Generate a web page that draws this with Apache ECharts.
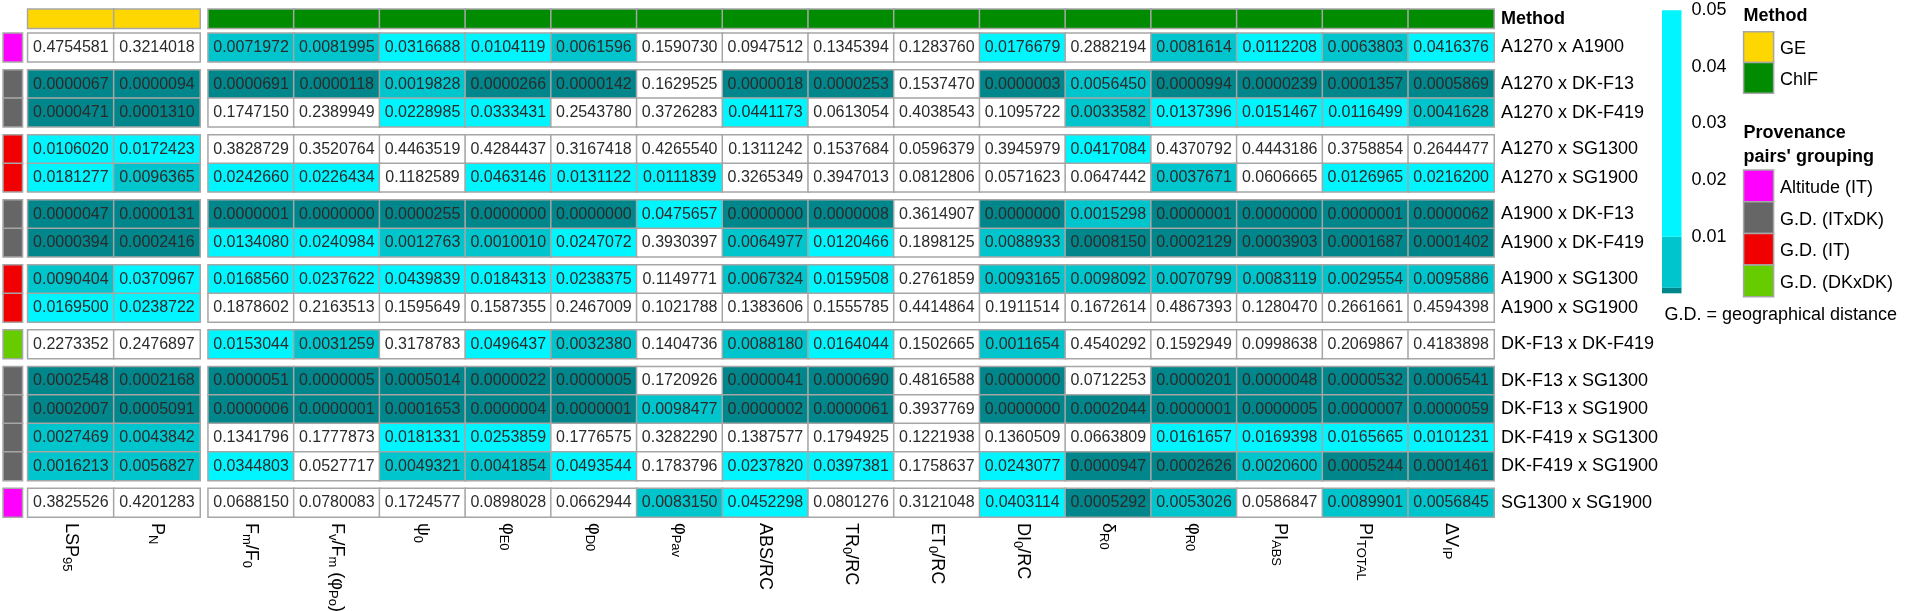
<!DOCTYPE html>
<html><head><meta charset="utf-8">
<script src="https://cdn.jsdelivr.net/npm/echarts@6/dist/echarts.min.js"></script>
<style>html,body{margin:0;padding:0;background:#fff}#c{width:1907px;height:611px}</style>
</head><body><div id="c"></div>
<script>
// ---------------- data ----------------
const rowLabels = [
  'A1270 x A1900',
  'A1270 x DK-F13', 'A1270 x DK-F419',
  'A1270 x SG1300', 'A1270 x SG1900',
  'A1900 x DK-F13', 'A1900 x DK-F419',
  'A1900 x SG1300', 'A1900 x SG1900',
  'DK-F13 x DK-F419',
  'DK-F13 x SG1300', 'DK-F13 x SG1900', 'DK-F419 x SG1300', 'DK-F419 x SG1900',
  'SG1300 x SG1900'
];
const groupSizes = [1, 2, 2, 2, 2, 1, 4, 1];
const rowProvenance = [
  'Altitude (IT)',
  'G.D. (ITxDK)', 'G.D. (ITxDK)',
  'G.D. (IT)', 'G.D. (IT)',
  'G.D. (ITxDK)', 'G.D. (ITxDK)',
  'G.D. (IT)', 'G.D. (IT)',
  'G.D. (DKxDK)',
  'G.D. (ITxDK)', 'G.D. (ITxDK)', 'G.D. (ITxDK)', 'G.D. (ITxDK)',
  'Altitude (IT)'
];
const methodLevels = ['GE', 'ChlF'];
const methodColors = ['#FFD700', '#008B00'];
const provenanceLevels = ['Altitude (IT)', 'G.D. (ITxDK)', 'G.D. (IT)', 'G.D. (DKxDK)'];
const provenanceColors = ['#FF00FF', '#666666', '#F00000', '#66CC00'];

const geLabels = ['LSP{s|95}', 'P{s|N}'];
const chlfLabels = [
  'F{s|m}/F{s|0}', 'F{s|v}/F{s|m} (φ{s|Po})', 'ψ{s|0}', 'φ{s|E0}', 'φ{s|D0}', 'φ{s|Pav}',
  'ABS/RC', 'TR{s|0}/RC', 'ET{s|0}/RC', 'DI{s|0}/RC', 'δ{s|R0}', 'φ{s|R0}',
  'PI{s|ABS}', 'PI{s|TOTAL}', 'ΔV{s|IP}'
];

const geValues = [
  [0.4754581, 0.3214018],
  [0.0000067, 0.0000094],
  [0.0000471, 0.0001310],
  [0.0106020, 0.0172423],
  [0.0181277, 0.0096365],
  [0.0000047, 0.0000131],
  [0.0000394, 0.0002416],
  [0.0090404, 0.0370967],
  [0.0169500, 0.0238722],
  [0.2273352, 0.2476897],
  [0.0002548, 0.0002168],
  [0.0002007, 0.0005091],
  [0.0027469, 0.0043842],
  [0.0016213, 0.0056827],
  [0.3825526, 0.4201283]
];
const chlfValues = [
  [0.0071972, 0.0081995, 0.0316688, 0.0104119, 0.0061596, 0.1590730, 0.0947512, 0.1345394, 0.1283760, 0.0176679, 0.2882194, 0.0081614, 0.0112208, 0.0063803, 0.0416376],
  [0.0000691, 0.0000118, 0.0019828, 0.0000266, 0.0000142, 0.1629525, 0.0000018, 0.0000253, 0.1537470, 0.0000003, 0.0056450, 0.0000994, 0.0000239, 0.0001357, 0.0005869],
  [0.1747150, 0.2389949, 0.0228985, 0.0333431, 0.2543780, 0.3726283, 0.0441173, 0.0613054, 0.4038543, 0.1095722, 0.0033582, 0.0137396, 0.0151467, 0.0116499, 0.0041628],
  [0.3828729, 0.3520764, 0.4463519, 0.4284437, 0.3167418, 0.4265540, 0.1311242, 0.1537684, 0.0596379, 0.3945979, 0.0417084, 0.4370792, 0.4443186, 0.3758854, 0.2644477],
  [0.0242660, 0.0226434, 0.1182589, 0.0463146, 0.0131122, 0.0111839, 0.3265349, 0.3947013, 0.0812806, 0.0571623, 0.0647442, 0.0037671, 0.0606665, 0.0126965, 0.0216200],
  [0.0000001, 0.0000000, 0.0000255, 0.0000000, 0.0000000, 0.0475657, 0.0000000, 0.0000008, 0.3614907, 0.0000000, 0.0015298, 0.0000001, 0.0000000, 0.0000001, 0.0000062],
  [0.0134080, 0.0240984, 0.0012763, 0.0010010, 0.0247072, 0.3930397, 0.0064977, 0.0120466, 0.1898125, 0.0088933, 0.0008150, 0.0002129, 0.0003903, 0.0001687, 0.0001402],
  [0.0168560, 0.0237622, 0.0439839, 0.0184313, 0.0238375, 0.1149771, 0.0067324, 0.0159508, 0.2761859, 0.0093165, 0.0098092, 0.0070799, 0.0083119, 0.0029554, 0.0095886],
  [0.1878602, 0.2163513, 0.1595649, 0.1587355, 0.2467009, 0.1021788, 0.1383606, 0.1555785, 0.4414864, 0.1911514, 0.1672614, 0.4867393, 0.1280470, 0.2661661, 0.4594398],
  [0.0153044, 0.0031259, 0.3178783, 0.0496437, 0.0032380, 0.1404736, 0.0088180, 0.0164044, 0.1502665, 0.0011654, 0.4540292, 0.1592949, 0.0998638, 0.2069867, 0.4183898],
  [0.0000051, 0.0000005, 0.0005014, 0.0000022, 0.0000005, 0.1720926, 0.0000041, 0.0000690, 0.4816588, 0.0000000, 0.0712253, 0.0000201, 0.0000048, 0.0000532, 0.0006541],
  [0.0000006, 0.0000001, 0.0001653, 0.0000004, 0.0000001, 0.0098477, 0.0000002, 0.0000061, 0.3937769, 0.0000000, 0.0002044, 0.0000001, 0.0000005, 0.0000007, 0.0000059],
  [0.1341796, 0.1777873, 0.0181331, 0.0253859, 0.1776575, 0.3282290, 0.1387577, 0.1794925, 0.1221938, 0.1360509, 0.0663809, 0.0161657, 0.0169398, 0.0165665, 0.0101231],
  [0.0344803, 0.0527717, 0.0049321, 0.0041854, 0.0493544, 0.1783796, 0.0237820, 0.0397381, 0.1758637, 0.0243077, 0.0000947, 0.0002626, 0.0020600, 0.0005244, 0.0001461],
  [0.0688150, 0.0780083, 0.1724577, 0.0898028, 0.0662944, 0.0083150, 0.0452298, 0.0801276, 0.3121048, 0.0403114, 0.0005292, 0.0053026, 0.0586847, 0.0089901, 0.0056845]
];

// p-value colour breaks (upper bounds) and colours
const pBreaks = [0.001, 0.01, 0.05];
const pColors = ['#00868B', '#00C5CD', '#00F5FF', '#FFFFFF'];
const colorbarMax = 0.05;
const colorbarStep = 0.01;

// ---------------- layout ----------------
const FONT = 'Arial, "Liberation Sans", sans-serif';
const L = {
  annX: 3.3, annW: 19,
  geX: 27.8, geW: 172.2,
  chX: 208.2, chW: 1285.8,
  topY: 9.3, topH: 19,
  rowY0: 33.3, rowH: 28.42, gap: 8.2,
  cbX: 1662, cbW: 19.5, cbY: 10.3, cbH: 283
};
const BORDER = '#A6A6A6';

const annotLevels = methodLevels.concat(provenanceLevels);
const annotColors = methodColors.concat(provenanceColors);

const grids = [], xAxes = [], yAxes = [], series = [];
const pSeries = [], annSeries = [];

function addGrid(left, top, width, height) {
  grids.push({left, top, width, height, containLabel: false, outerBoundsMode: 'none'});
  return grids.length - 1;
}
function catAxis(data, extra) {
  return Object.assign({
    type: 'category', data,
    axisLine: {show: false}, axisTick: {show: false}, splitLine: {show: false},
    axisLabel: {show: false}
  }, extra || {});
}
const heatBase = {
  type: 'heatmap',
  emphasis: {disabled: true},
  itemStyle: {borderColor: BORDER, borderWidth: 1.5}
};
const cellLabel = {
  show: true, fontSize: 16, color: '#2b2b2b', fontFamily: FONT,
  formatter: p => p.value[2].toFixed(7)
};
const xLabelStyle = {
  show: true, interval: 0, rotate: -90, margin: 6, color: '#000',
  fontSize: 18, fontFamily: FONT, lineHeight: 22,
  rich: {s: {fontSize: 13, fontFamily: FONT, verticalAlign: 'bottom', lineHeight: 14, color: '#000'}}
};

// top method annotation
[[L.geX, L.geW, geLabels, 0], [L.chX, L.chW, chlfLabels, 1]].forEach(([x, w, labs, m], bi) => {
  const g = addGrid(x, L.topY, w, L.topH);
  xAxes.push(catAxis(labs.map((_, i) => i), {gridIndex: g}));
  yAxes.push(catAxis(['Method'], bi === 1 ? {
    gridIndex: g, position: 'right',
    axisLabel: {show: true, margin: 7, fontSize: 18, fontWeight: 'bold', color: '#000', fontFamily: FONT}
  } : {gridIndex: g}));
  series.push(Object.assign({}, heatBase, {
    xAxisIndex: xAxes.length - 1, yAxisIndex: yAxes.length - 1,
    data: labs.map((_, i) => [i, 0, annotLevels.indexOf(methodLevels[m])])
  }));
  annSeries.push(series.length - 1);
});

// row groups
let r0 = 0;
groupSizes.forEach((n, gi) => {
  const top = L.rowY0 + r0 * L.rowH + gi * L.gap;
  const h = n * L.rowH;
  const rows = rowLabels.slice(r0, r0 + n);
  const last = gi === groupSizes.length - 1;

  // provenance annotation
  let g = addGrid(L.annX, top, L.annW, h);
  xAxes.push(catAxis(['prov'], {gridIndex: g}));
  yAxes.push(catAxis(rows, {gridIndex: g, inverse: true}));
  series.push(Object.assign({}, heatBase, {
    xAxisIndex: xAxes.length - 1, yAxisIndex: yAxes.length - 1,
    data: rows.map((_, k) => [0, k, annotLevels.indexOf(rowProvenance[r0 + k])])
  }));
  annSeries.push(series.length - 1);

  // GE block
  g = addGrid(L.geX, top, L.geW, h);
  xAxes.push(catAxis(geLabels, last ? {gridIndex: g, axisLabel: xLabelStyle} : {gridIndex: g}));
  yAxes.push(catAxis(rows, {gridIndex: g, inverse: true}));
  const geData = [];
  rows.forEach((_, k) => geValues[r0 + k].forEach((v, c) => geData.push([c, k, v])));
  series.push(Object.assign({}, heatBase, {
    xAxisIndex: xAxes.length - 1, yAxisIndex: yAxes.length - 1, data: geData, label: cellLabel
  }));
  pSeries.push(series.length - 1);

  // ChlF block
  g = addGrid(L.chX, top, L.chW, h);
  xAxes.push(catAxis(chlfLabels, last ? {gridIndex: g, axisLabel: xLabelStyle} : {gridIndex: g}));
  yAxes.push(catAxis(rows, {
    gridIndex: g, inverse: true, position: 'right',
    axisLabel: {show: true, margin: 7, fontSize: 18, color: '#000', fontFamily: FONT}
  }));
  const chData = [];
  rows.forEach((_, k) => chlfValues[r0 + k].forEach((v, c) => chData.push([c, k, v])));
  series.push(Object.assign({}, heatBase, {
    xAxisIndex: xAxes.length - 1, yAxisIndex: yAxes.length - 1, data: chData, label: cellLabel
  }));
  pSeries.push(series.length - 1);

  r0 += n;
});

// colour bar (stacked bar on a value axis 0..0.05)
const cbg = addGrid(L.cbX, L.cbY, L.cbW, L.cbH);
xAxes.push(catAxis([''], {gridIndex: cbg}));
yAxes.push({
  type: 'value', gridIndex: cbg, min: 0, max: colorbarMax, interval: colorbarStep, position: 'right',
  axisLine: {show: false}, axisTick: {show: false}, splitLine: {show: false},
  axisLabel: {show: true, margin: 10, fontSize: 18, color: '#000', fontFamily: FONT,
    formatter: v => v === 0 ? '' : v.toFixed(2)}
});
let prev = 0;
pBreaks.forEach((b, i) => {
  series.push({
    type: 'bar', stack: 'cb', barWidth: '100%', silent: true,
    xAxisIndex: xAxes.length - 1, yAxisIndex: yAxes.length - 1,
    itemStyle: {color: pColors[i]}, data: [b - prev]
  });
  prev = b;
});

// legend (graphic)
const LG = {x: 1743.6, sw: 30, lx: 1780};
const graphic = [];
function txt(x, y, text, bold) {
  graphic.push({type: 'text', left: x, top: y - 11, style: {
    text, fontSize: 18, fontWeight: bold ? 'bold' : 'normal', fill: '#000', fontFamily: FONT}});
}
txt(LG.x, 18.5, 'Method', true);
methodLevels.forEach((m, i) => {
  const y = 31.7 + i * 30.8;
  graphic.push({type: 'rect', shape: {x: LG.x, y, width: LG.sw, height: 30.8},
    style: {fill: methodColors[i], stroke: BORDER, lineWidth: 1.5}});
  txt(LG.lx, y + 19.5, m, false);
});
txt(LG.x, 135, 'Provenance', true);
txt(LG.x, 159.3, "pairs' grouping", true);
provenanceLevels.forEach((p, i) => {
  const y = 170 + i * 31.7;
  graphic.push({type: 'rect', shape: {x: LG.x, y, width: LG.sw, height: 31.7},
    style: {fill: provenanceColors[i], stroke: BORDER, lineWidth: 1.5}});
  txt(LG.lx, y + 20, p, false);
});
txt(1664.4, 316.7, 'G.D. = geographical distance', false);

const option = {
  animation: false,
  backgroundColor: '#fff',
  grid: grids, xAxis: xAxes, yAxis: yAxes, series,
  visualMap: [
    {type: 'piecewise', show: false, dimension: 2, seriesIndex: pSeries,
      pieces: [
        {lt: pBreaks[0], color: pColors[0]},
        {gte: pBreaks[0], lt: pBreaks[1], color: pColors[1]},
        {gte: pBreaks[1], lt: pBreaks[2], color: pColors[2]},
        {gte: pBreaks[2], color: pColors[3]}
      ]},
    {type: 'piecewise', show: false, dimension: 2, seriesIndex: annSeries,
      pieces: annotLevels.map((_, i) => ({value: i, color: annotColors[i]}))}
  ],
  graphic
};
const chart = echarts.init(document.getElementById('c'), null, {renderer: 'canvas'});
chart.setOption(option);
</script>
</body></html>
